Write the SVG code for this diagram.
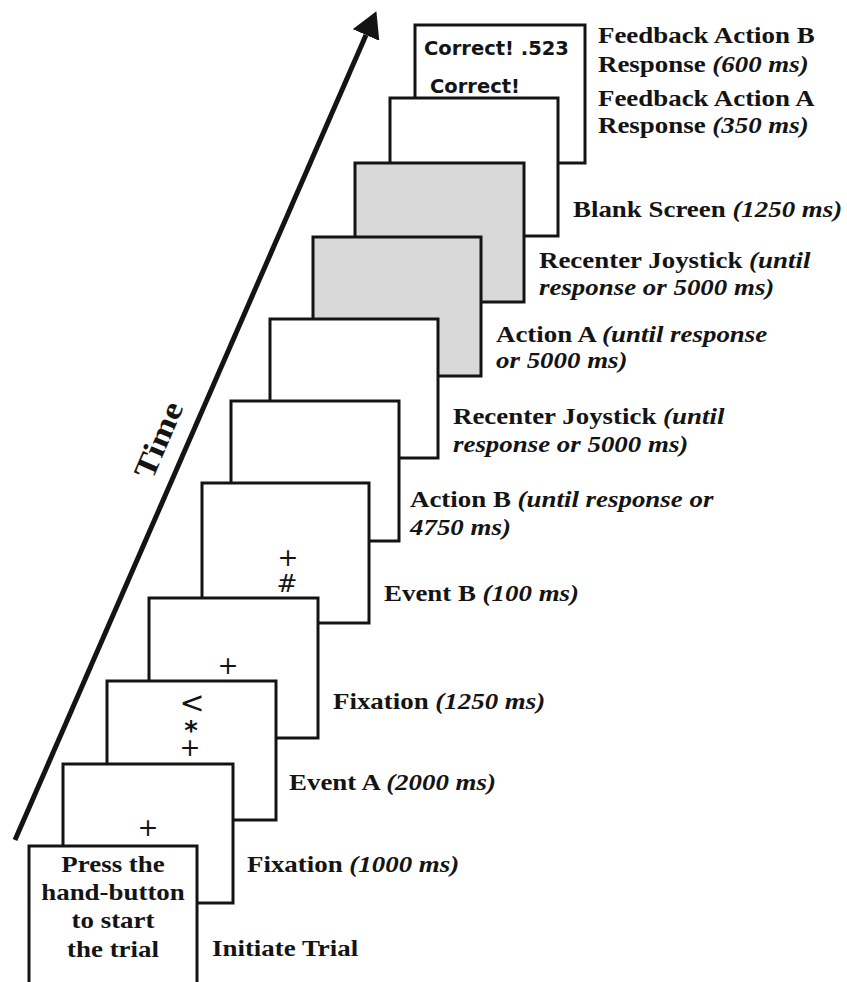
<svg xmlns="http://www.w3.org/2000/svg" width="847" height="982" viewBox="0 0 847 982">
<style>
.scr{stroke:#141414;stroke-width:3;fill:#fff}
.gray{fill:#d9d9d9}
.lbl{font-family:"Liberation Serif","Times New Roman",serif;font-weight:bold;font-size:23px;fill:#141414}
.it{font-style:italic}
.ctr{text-anchor:middle}
.sym{font-family:"DejaVu Sans",sans-serif;font-size:25px;fill:#141414;text-anchor:middle}
.fb{font-family:"DejaVu Sans",sans-serif;font-weight:bold;font-size:19.5px;fill:#141414}
.time{font-family:"Liberation Serif","Times New Roman",serif;font-weight:bold;font-size:31px;fill:#141414;text-anchor:middle}
</style>
<defs>
<marker id="ah" viewBox="0 0 26 29" markerWidth="26" markerHeight="29" refX="0" refY="14.5" orient="auto" markerUnits="userSpaceOnUse">
<path d="M0,0 L26,14.5 L0,29 Z" fill="#141414"/>
</marker>
</defs>
<rect width="847" height="982" fill="#fff"/>

<g id="connectors">
<line x1="15" y1="840" x2="366" y2="35" stroke="#141414" stroke-width="5" marker-end="url(#ah)"/>
<text class="time" transform="translate(168,444) rotate(-66.8) scale(1.17,1)">Time</text>
</g>

<g id="feedback-b">
<rect class="scr" x="415" y="25" width="170" height="138"/>
<text class="fb" x="424" y="55">Correct! .523</text>
<text class="fb" x="430" y="93">Correct!</text>
<text class="lbl" transform="translate(598,43) scale(1.17,1)">Feedback Action B</text>
<text class="lbl" transform="translate(598,72) scale(1.17,1)">Response <tspan class="it">(600 ms)</tspan></text>
</g>

<g id="feedback-a">
<rect class="scr" x="390" y="98" width="168" height="138"/>
<text class="lbl" transform="translate(598,106) scale(1.17,1)">Feedback Action A</text>
<text class="lbl" transform="translate(598,133) scale(1.17,1)">Response <tspan class="it">(350 ms)</tspan></text>
</g>

<g id="blank-screen">
<rect class="scr gray" x="355" y="163" width="169" height="139"/>
<text class="lbl" transform="translate(573,217) scale(1.17,1)">Blank Screen <tspan class="it">(1250 ms)</tspan></text>
</g>

<g id="recenter-2">
<rect class="scr gray" x="313" y="237" width="168" height="139"/>
<text class="lbl" transform="translate(539,268) scale(1.17,1)">Recenter Joystick <tspan class="it">(until</tspan></text>
<text class="lbl it" transform="translate(539,295) scale(1.17,1)">response or 5000 ms)</text>
</g>

<g id="action-a">
<rect class="scr" x="270" y="319" width="168" height="139"/>
<text class="lbl" transform="translate(496,342) scale(1.17,1)">Action A <tspan class="it">(until response</tspan></text>
<text class="lbl it" transform="translate(496,368) scale(1.17,1)">or 5000 ms)</text>
</g>

<g id="recenter-1">
<rect class="scr" x="231" y="401" width="168" height="140"/>
<text class="lbl" transform="translate(453,424) scale(1.17,1)">Recenter Joystick <tspan class="it">(until</tspan></text>
<text class="lbl it" transform="translate(453,452) scale(1.17,1)">response or 5000 ms)</text>
</g>

<g id="action-b">
<rect class="scr" x="202" y="483" width="167" height="140"/>
<text class="sym"><tspan x="288" y="566">+</tspan><tspan x="287" y="592">#</tspan></text>
<text class="lbl" transform="translate(410,507) scale(1.17,1)">Action B <tspan class="it">(until response or</tspan></text>
<text class="lbl it" transform="translate(410,535) scale(1.17,1)">4750 ms)</text>
</g>

<g id="event-b">
<rect class="scr" x="149" y="598" width="169" height="140"/>
<text class="sym" x="228" y="674">+</text>
<text class="lbl" transform="translate(384,601) scale(1.17,1)">Event B <tspan class="it">(100 ms)</tspan></text>
</g>

<g id="fixation-2">
<rect class="scr" x="107" y="681" width="169" height="139"/>
<text class="sym"><tspan x="192" y="713" font-size="30">&lt;</tspan><tspan x="191" y="740" font-size="26" font-weight="bold">*</tspan><tspan x="190" y="756">+</tspan></text>
<text class="lbl" transform="translate(333,709) scale(1.17,1)">Fixation <tspan class="it">(1250 ms)</tspan></text>
</g>

<g id="event-a">
<rect class="scr" x="63" y="764" width="170" height="139"/>
<text class="sym" x="148" y="836">+</text>
<text class="lbl" transform="translate(289,790) scale(1.17,1)">Event A <tspan class="it">(2000 ms)</tspan></text>
</g>

<g id="fixation-1">
<rect class="scr" x="29" y="846" width="168" height="145"/>
<text class="lbl ctr" transform="translate(113,872) scale(1.17,1)">Press the</text>
<text class="lbl ctr" transform="translate(113,900) scale(1.17,1)">hand-button</text>
<text class="lbl ctr" transform="translate(113,928) scale(1.17,1)">to start</text>
<text class="lbl ctr" transform="translate(113,957) scale(1.17,1)">the trial</text>
<text class="lbl" transform="translate(247,872) scale(1.17,1)">Fixation <tspan class="it">(1000 ms)</tspan></text>
</g>

<g id="initiate-trial">
<text class="lbl" transform="translate(212,956) scale(1.17,1)">Initiate Trial</text>
</g>
</svg>
